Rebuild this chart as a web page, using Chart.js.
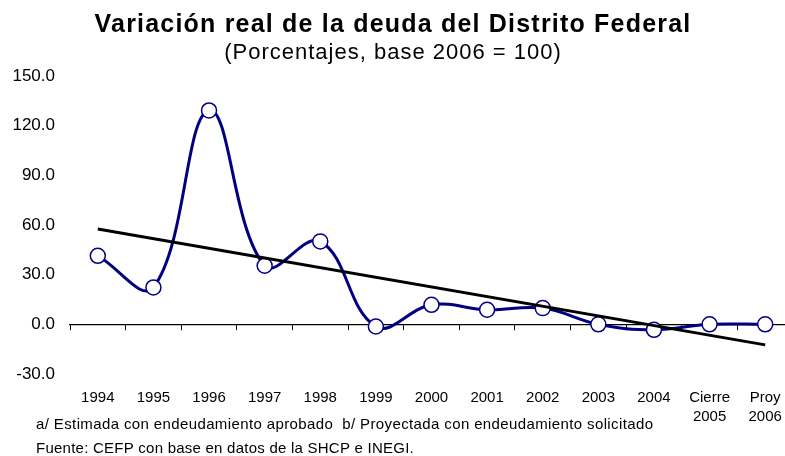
<!DOCTYPE html>
<html>
<head>
<meta charset="utf-8">
<style>
html,body{margin:0;padding:0;overflow:hidden;background:#fff}
#wrap{width:802px;height:456px}
</style>
<script src="https://cdn.jsdelivr.net/npm/chart.js@4.4.1/dist/chart.umd.min.js"></script>
</head>
<body>
<div id="wrap"><canvas id="c" width="802" height="456"></canvas></div>
<script>
// ---- data ----
const categories = ['1994','1995','1996','1997','1998','1999','2000','2001','2002','2003','2004',['Cierre','2005'],['Proy','2006']];
const variacionReal = [41.4, 22.3, 129.2, 35.4, 50.1, -1.3, 11.8, 8.8, 9.8, 0.0, -3.3, 0.0, 0.0];
const tendencia = [57.6, null, null, null, null, null, null, null, null, null, null, null, -12.4];
const yTicks = [-30, 0, 30, 60, 90, 120, 150];
const titleText = 'Variación real de la deuda del Distrito Federal';
const subtitleText = '(Porcentajes, base 2006 = 100)';
const noteLines = [
  'a/ Estimada con endeudamiento aprobado  b/ Proyectada con endeudamiento solicitado',
  'Fuente: CEFP con base en datos de la SHCP e INEGI.'
];

const FONT = '"Liberation Sans", Arial, sans-serif';

const textPlugin = {
  id: 'texts',
  afterDraw(chart) {
    const ctx = chart.ctx;
    ctx.save();
    ctx.fillStyle = '#000';
    ctx.textBaseline = 'alphabetic';
    ctx.textAlign = 'center';
    ctx.font = 'bold 25px ' + FONT;
    ctx.letterSpacing = '1.2px';
    ctx.fillText(titleText, 393, 32);
    ctx.font = '22px ' + FONT;
    ctx.letterSpacing = '1px';
    ctx.fillText(subtitleText, 393, 59);
    ctx.textAlign = 'left';
    ctx.font = '15px ' + FONT;
    ctx.letterSpacing = '0.38px';
    ctx.fillText(noteLines[0], 36, 429);
    ctx.letterSpacing = '0.24px';
    ctx.fillText(noteLines[1], 36, 452.5);
    ctx.restore();
  }
};

new Chart(document.getElementById('c'), {
  type: 'line',
  data: {
    labels: categories,
    datasets: [
      {
        label: 'Tendencia',
        data: tendencia,
        spanGaps: true,
        borderColor: '#000',
        borderWidth: 3,
        pointRadius: 0,
        tension: 0,
        fill: false
      },
      {
        label: 'Variación real',
        data: variacionReal,
        borderColor: '#000080',
        borderWidth: 3,
        tension: 0.4,
        pointRadius: 7.5,
        pointBorderWidth: 1.5,
        pointBackgroundColor: '#ffffff',
        pointBorderColor: '#000080',
        fill: false
      }
    ]
  },
  options: {
    responsive: false,
    animation: false,
    layout: { padding: { top: 76, right: 0, bottom: 0, left: 0 } },
    plugins: { legend: { display: false }, tooltip: { enabled: false }, title: { display: false } },
    scales: {
      x: {
        type: 'category',
        position: 'bottom',
        offset: true,
        grid: { display: false, drawTicks: false },
        border: { display: false },
        ticks: {
          color: '#000',
          font: { family: FONT, size: 15, lineHeight: 1.3 },
          padding: 14,
          maxRotation: 0,
          autoSkip: false
        },
        afterFit(scale) { scale.height = 82; scale.paddingLeft = 0; scale.paddingRight = 0; }
      },
      x2: {
        type: 'category',
        axis: 'x',
        position: { y: 0 },
        offset: true,
        grid: { offset: true, drawOnChartArea: false, drawTicks: true, tickLength: 5, color: '#000', lineWidth: 1 },
        border: { display: true, color: '#000', width: 1.2 },
        ticks: { display: false },
        afterFit(scale) { scale.paddingLeft = 0; scale.paddingRight = 0; }
      },
      y: {
        min: -30,
        max: 150,
        grid: { display: false, drawTicks: false },
        border: { display: false },
        afterBuildTicks(scale) { scale.ticks = yTicks.map(v => ({ value: v })); },
        ticks: {
          color: '#000',
          font: { family: FONT, size: 17 },
          padding: 15,
          callback: v => Number(v).toFixed(1)
        },
        afterFit(scale) { scale.width = 70; }
      }
    }
  },
  plugins: [textPlugin]
});
</script>
</body>
</html>
